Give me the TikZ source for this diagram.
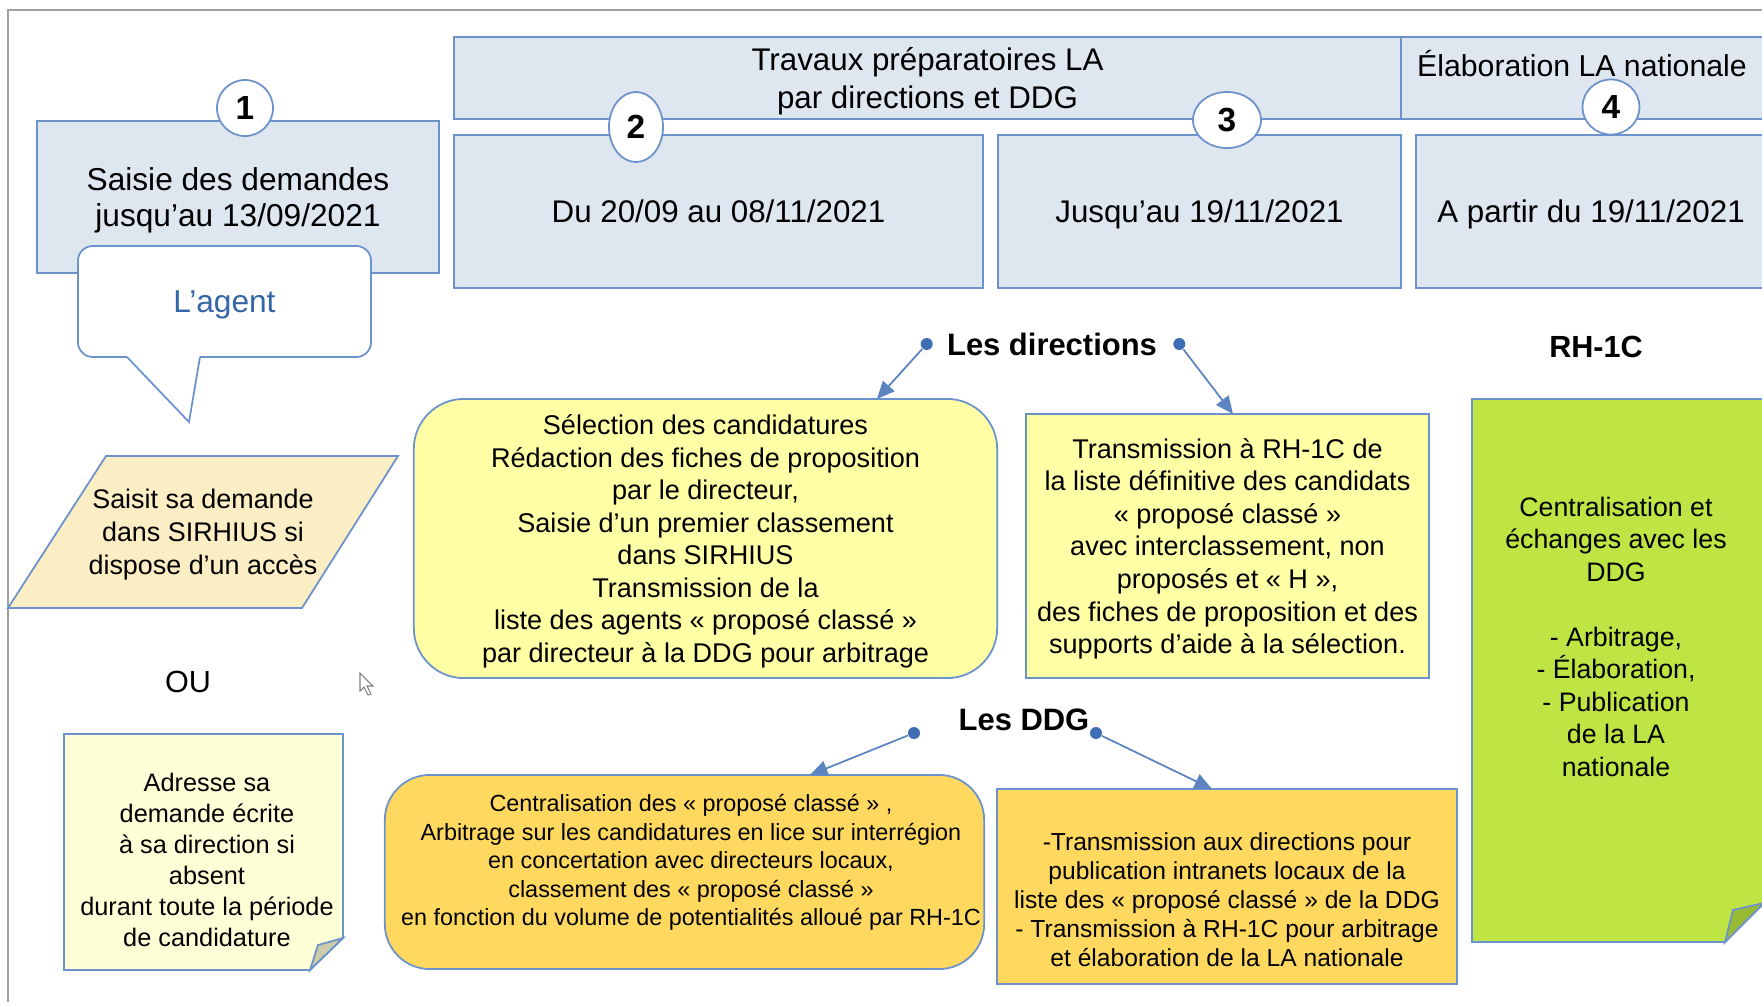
\documentclass[tikz,border=0pt]{standalone}
\usepackage{fontspec}
\setmainfont{Liberation Sans}
\usepackage{xcolor}
\usetikzlibrary{shapes,arrows,arrows.meta,positioning,calc,shapes.geometric}

\definecolor{lineblue}{RGB}{108,146,204}
\definecolor{dotblue}{RGB}{63,110,181}
\definecolor{phasefill}{RGB}{222,230,240}
\definecolor{agentblue}{RGB}{52,101,164}
\definecolor{beigefill}{RGB}{252,238,196}
\definecolor{notefill}{RGB}{255,255,215}
\definecolor{notefold}{RGB}{204,204,170}
\definecolor{dirfill}{RGB}{255,255,166}
\definecolor{ddgfill}{RGB}{255,217,95}
\definecolor{rhfill}{RGB}{190,229,68}
\definecolor{rhfold}{RGB}{150,186,52}
\definecolor{framegray}{RGB}{160,160,160}

\begin{document}
\begin{tikzpicture}[x=0.01cm, y=-0.01cm, >={Triangle[length=5pt,width=4.4pt]}]
    \tikzstyle{phase} = [rectangle, draw=lineblue, fill=phasefill, line width=0.5pt, inner sep=0pt, text depth=0pt, align=center, font=\fontsize{8.9}{10.8}\selectfont]
    \tikzstyle{numcirc} = [ellipse, draw=lineblue, fill=white, line width=0.5pt, inner sep=0pt, font=\bfseries\fontsize{9.5}{11}\selectfont]
    \tikzstyle{callbox} = [rectangle, rounded corners=0.15cm, draw=lineblue, fill=white, line width=0.5pt, text depth=0pt, text=agentblue, font=\fontsize{9}{11}\selectfont]
    \tikzstyle{dirbox} = [rectangle, draw=lineblue, fill=dirfill, line width=0.5pt, inner sep=0pt, text depth=0pt, align=center, font=\fontsize{7.7}{9.25}\selectfont]
    \tikzstyle{ddgbox} = [rectangle, draw=lineblue, fill=ddgfill, line width=0.5pt, inner sep=0pt]
    \tikzstyle{shapeline} = [draw=lineblue, line width=0.5pt]
    \tikzstyle{txt} = [align=center, inner sep=0pt, text depth=0pt]
    \tikzstyle{actor} = [font=\bfseries\fontsize{8.8}{10}\selectfont, inner sep=0pt]
    \tikzstyle{dotnode} = [circle, fill=dotblue, inner sep=0pt, minimum size=0.12cm]
    \tikzstyle{arrow} = [draw=dotblue!85!white, line width=0.5pt, ->]

    \useasboundingbox (0,0) rectangle (1762,1002);
    \clip (0,0) rectangle (1762,1002);
    \draw[framegray, line width=0.6pt] (1762,10) -- (8,10) -- (8,1002);

    % calendrier
    \node [phase, font=\fontsize{9}{10.5}\selectfont, minimum width=4.02cm, minimum height=1.52cm] (saisie) at (238,197) {Saisie des demandes\\jusqu’au 13/09/2021};
    \node [phase, minimum width=9.47cm, minimum height=0.82cm] (travaux) at (927.5,78) {Travaux préparatoires LA\\par directions et DDG};
    \node [phase, minimum width=3.65cm, minimum height=0.82cm] (elab) at (1583.5,78) {};
    \node [txt, font=\fontsize{8.6}{10}\selectfont] (elabtxt) at (1582,63) {Élaboration LA nationale};
    \node [phase, minimum width=5.29cm, minimum height=1.53cm] (periode2) at (718.5,211.5) {Du 20/09 au 08/11/2021};
    \node [phase, minimum width=4.03cm, minimum height=1.53cm] (periode3) at (1199.5,211.5) {Jusqu’au 19/11/2021};
    \node [phase, minimum width=3.50cm, minimum height=1.53cm] (periode4) at (1591,211.5) {A partir du 19/11/2021};

    \node [numcirc, minimum width=0.56cm, minimum height=0.56cm] (n1) at (245,108) {1};
    \node [numcirc, minimum width=0.54cm, minimum height=0.70cm] (n2) at (636,127) {2};
    \node [numcirc, minimum width=0.68cm, minimum height=0.56cm] (n3) at (1227,120) {3};
    \node [numcirc, minimum width=0.57cm, minimum height=0.55cm] (n4) at (1611,107) {4};

    % l'agent
    \node [callbox, minimum width=2.93cm, minimum height=1.11cm] (agent) at (224.5,301.5) {L’agent};
    \coordinate (agenttip) at (189,422);
    \fill [white] (128,354) -- (199,354) -- (200,357) -- (agenttip) -- (127,357) -- cycle;
    \draw [shapeline] (127,357) -- (agenttip) -- (200,357);

    \draw [shapeline, fill=beigefill] (106,456) -- (398,456) -- (302,608) -- (8,608) -- cycle;
    \node [txt, font=\fontsize{7.65}{9.4}\selectfont] (saisit) at (203,532) {Saisit sa demande\\dans SIRHIUS si\\dispose d’un accès};

    \node [font=\fontsize{8.7}{10}\selectfont] (ou) at (188,682) {OU};
    \draw [gray, fill=white, line width=0.3pt] (360,673) -- (360,691) -- (364,687) -- (368,695) -- (371,694) -- (367,686) -- (373,686) -- cycle;

    \draw [shapeline, fill=notefill] (64,734) -- (343,734) -- (343,938) -- (310,970) -- (64,970) -- cycle;
    \draw [shapeline, fill=notefold] (310,970) -- (318,945) -- (343,938) -- cycle;
    \node [txt, font=\fontsize{7.2}{8.8}\selectfont] (adresse) at (207,860) {Adresse sa\\demande écrite\\à sa direction si\\absent\\durant toute la période\\de candidature};

    % les directions
    \node [actor] (lesdir) at (1052,344) {Les directions};
    \node [dotnode, left=0.13cm of lesdir] (dirL) {};
    \node [dotnode, right=0.15cm of lesdir] (dirR) {};

    \node [dirbox, rounded corners=0.5cm, minimum width=5.83cm, minimum height=2.79cm] (selection) at (705.5,538.5) {Sélection des candidatures\\Rédaction des fiches de proposition\\par le directeur,\\Saisie d’un premier classement\\dans SIRHIUS\\Transmission de la\\liste des agents « proposé classé »\\par directeur à la DDG pour arbitrage};
    \node [dirbox, minimum width=4.03cm, minimum height=2.64cm] (transmis) at (1227.5,546) {Transmission à RH-1C de\\la liste définitive des candidats\\« proposé classé »\\avec interclassement, non\\proposés et « H »,\\des fiches de proposition et des\\supports d'aide à la sélection.};

    \coordinate (seltip) at (877,399);
    \coordinate (transtip) at (1233,414);
    \draw [arrow] (dirL) -- (seltip);
    \draw [arrow] (dirR) -- (transtip);

    % RH-1C
    \node [actor, font=\bfseries\fontsize{8.7}{10}\selectfont] (rh) at (1596,347) {RH-1C};
    \draw [shapeline, fill=rhfill] (1472,399) -- (1764,399) -- (1764,903) -- (1725,942) -- (1472,942) -- cycle;
    \draw [shapeline, fill=rhfold] (1725,942) -- (1733,910) -- (1764,903) -- cycle;
    \node [txt, font=\fontsize{7.6}{9.25}\selectfont] (rhtxt) at (1616,636.5) {Centralisation et\\échanges avec les\\DDG\\[9.25pt]- Arbitrage,\\- Élaboration,\\- Publication\\de la LA\\nationale};

    % les DDG
    \node [actor] (lesddg) at (1024,720) {Les DDG};
    \node [dotnode] (ddgL) at (914,733) {};
    \node [dotnode] (ddgR) at (1096,733) {};

    \node [ddgbox, rounded corners=0.45cm, minimum width=5.99cm, minimum height=1.94cm] (central) at (684.5,872) {};
    \node [txt, font=\fontsize{6.65}{8.1}\selectfont] (centraltxt) at (691,860) {Centralisation des « proposé classé » ,\\Arbitrage sur les candidatures en lice sur interrégion\\en concertation avec directeurs locaux,\\classement des « proposé classé »\\en fonction du volume de potentialités alloué par RH-1C};
    \node [ddgbox, minimum width=4.60cm, minimum height=1.95cm] (diffusion) at (1227,886.5) {};
    \node [txt, font=\fontsize{7.0}{8.25}\selectfont] (diffusiontxt) at (1227,900) {-Transmission aux directions pour\\publication intranets locaux de la\\liste des « proposé classé » de la DDG\\- Transmission à RH-1C pour arbitrage\\et élaboration de la LA nationale};

    \coordinate (centraltip) at (810,775);
    \coordinate (diffusiontip) at (1212,789);
    \draw [arrow] (ddgL) -- (centraltip);
    \draw [arrow] (ddgR) -- (diffusiontip);
\end{tikzpicture}
\end{document}
